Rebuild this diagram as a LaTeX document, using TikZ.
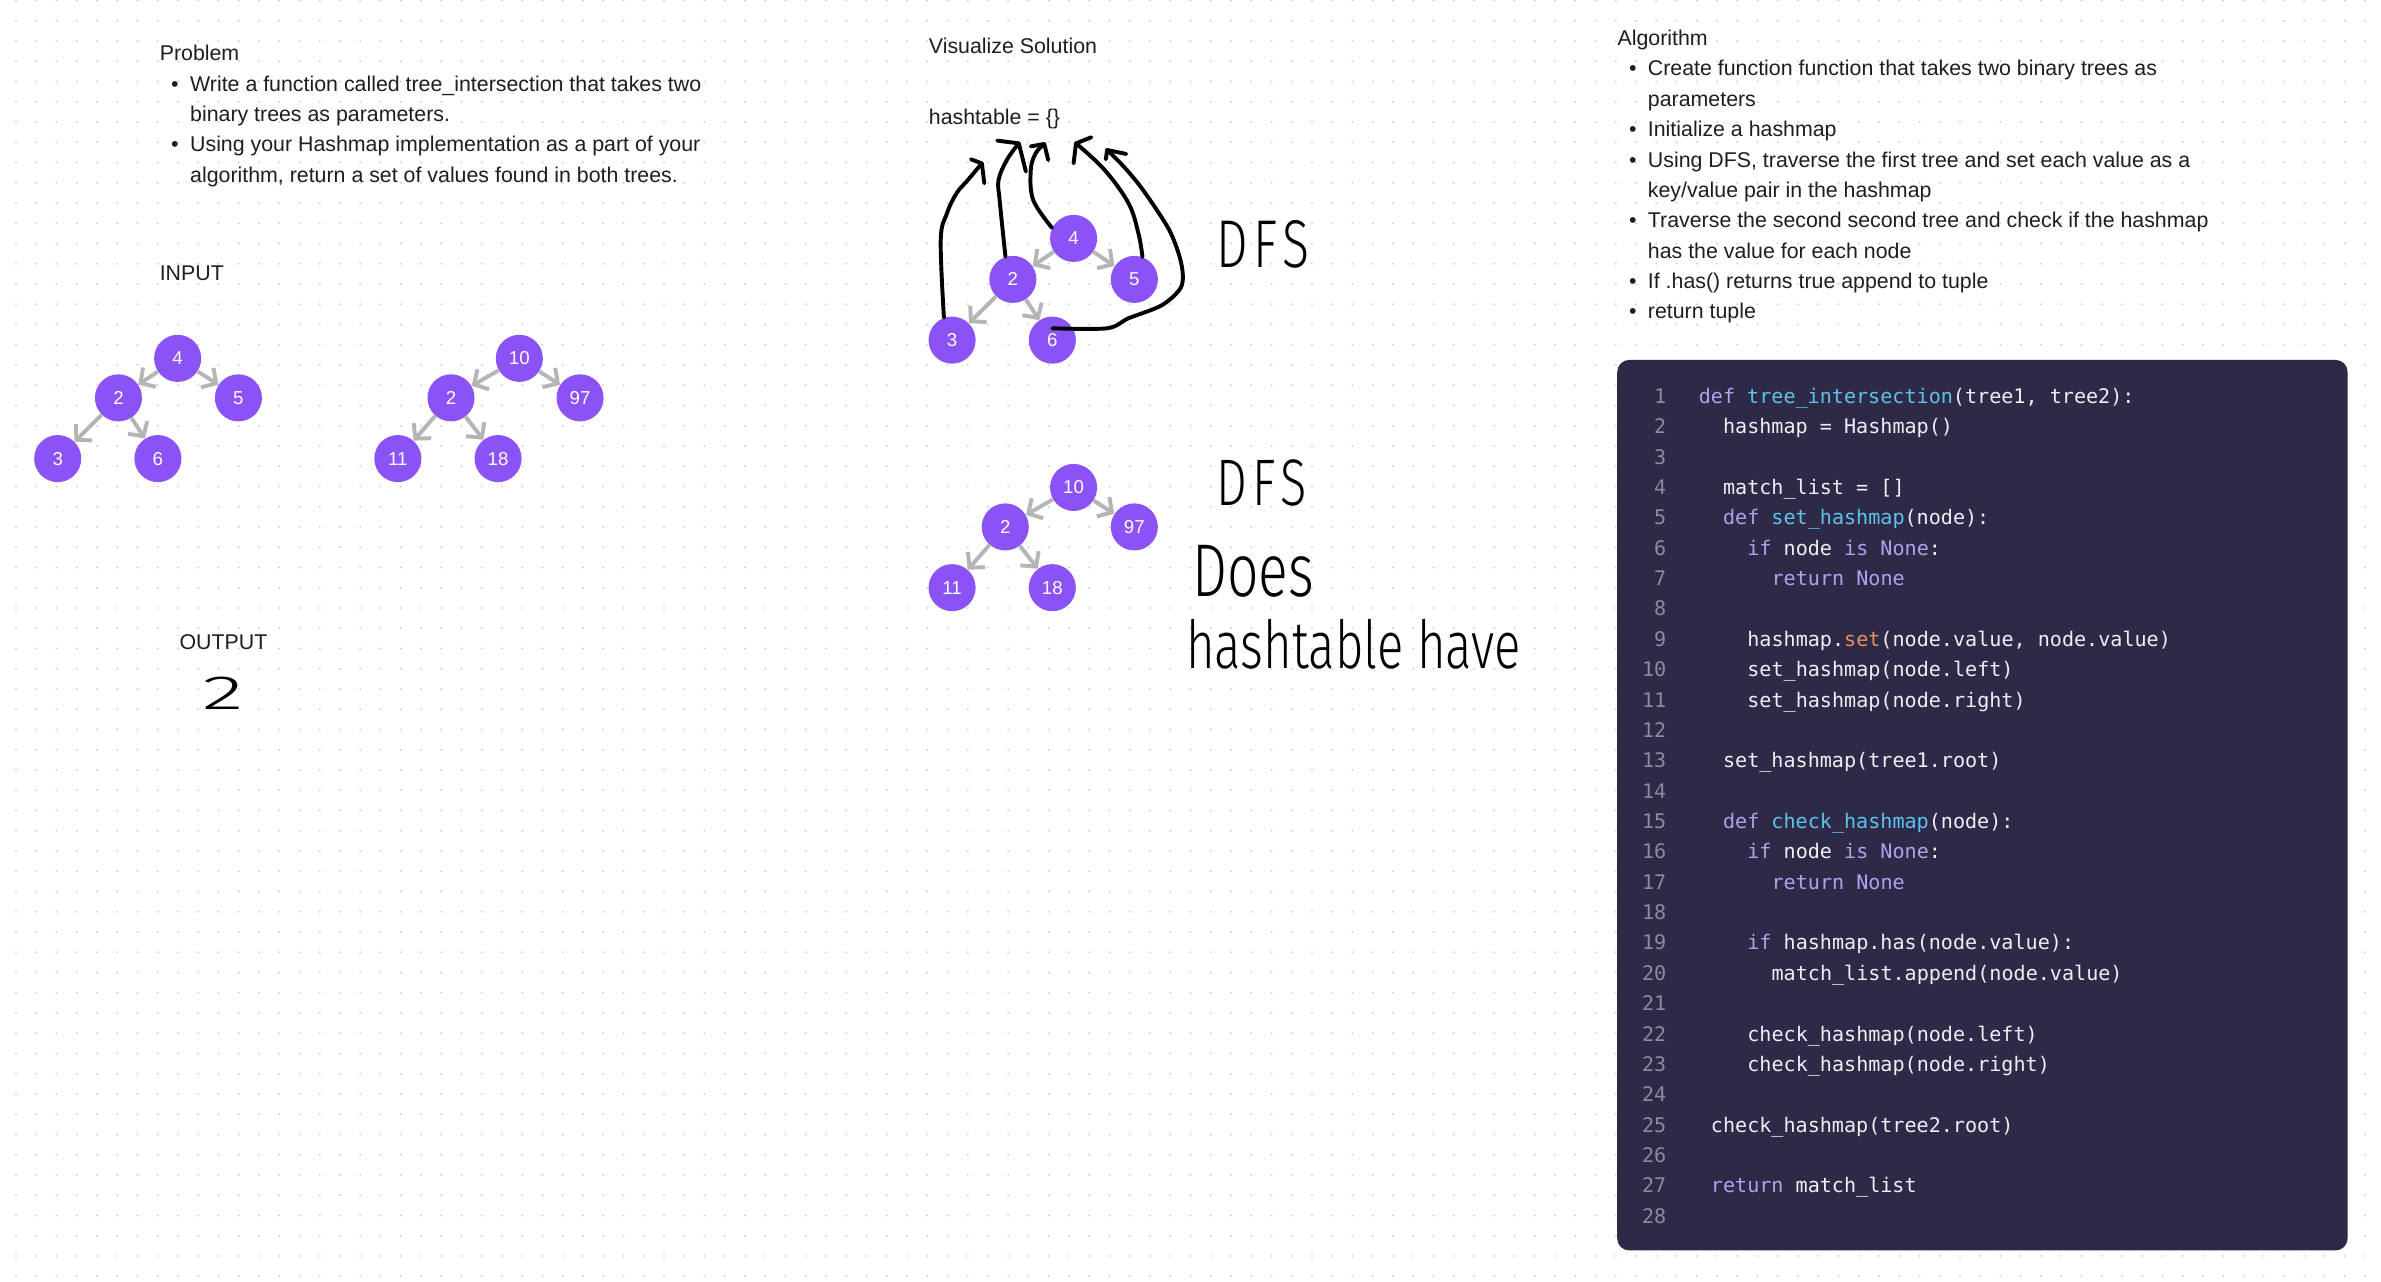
\documentclass[tikz,border=0pt]{standalone}
\usepackage{fontspec}
\setmainfont{Liberation Sans}
\newfontfamily\codefont{DejaVu Sans Mono}
\IfFontExistsTF{Fira Sans Light}{%
	\newfontfamily\handfont[FakeStretch=0.74]{Fira Sans Light}
	\newfontfamily\handwide[FakeStretch=1.8]{Fira Sans Light}
}{%
	\newfontfamily\handfont[FakeStretch=0.74]{Fira Sans}
	\newfontfamily\handwide[FakeStretch=1.8]{Fira Sans}
}
\usepackage{xcolor}
\usepackage{tikz}
\usetikzlibrary{arrows.meta}
\definecolor{dotgray}{HTML}{D2D2D2}
\definecolor{nodepurple}{HTML}{8B52F5}
\definecolor{edgegray}{HTML}{B5B5B5}
\definecolor{inktext}{HTML}{1E1E1E}
\definecolor{codebg}{HTML}{2E2946}
\definecolor{codetext}{HTML}{EEEEF4}
\definecolor{codekw}{HTML}{B3A0EC}
\definecolor{codefn}{HTML}{5CC3EC}
\definecolor{codemt}{HTML}{EC8E5C}
\definecolor{codenum}{HTML}{8C8A9E}
\def\kw#1{\textcolor{codekw}{#1}}
\def\fn#1{\textcolor{codefn}{#1}}
\def\mt#1{\textcolor{codemt}{#1}}
\tikzset{
	treenode/.style={circle,fill=nodepurple,text=white,minimum size=0.93cm,inner sep=0pt,font=\fontsize{10.5}{12}\selectfont},
	treeedge/.style={draw=edgegray,line width=2.2pt,-{Straight Barb[length=6pt,width=13pt]}},
	bodytext/.style={anchor=base west,inner sep=0pt,text=inktext,font=\fontsize{12}{14}\selectfont},
	codeline/.style={anchor=base west,inner sep=0pt,text=codetext,font=\codefont\fontsize{11.3}{13}\selectfont},
	lineno/.style={anchor=base east,inner sep=0pt,text=codenum,font=\codefont\fontsize{11.3}{13}\selectfont},
	handline/.style={line width=2.2pt,line cap=round,line join=round,draw=black},
	handtext/.style={anchor=base west,inner sep=0pt,text=black}
}
\begin{document}
\begin{tikzpicture}[x=0.03cm,y=-0.03cm]
	\useasboundingbox (0,0) rectangle (1568,844);
	\fill[white] (0,0) rectangle (1568,844);
	\foreach \j in {0,...,63}
		\fill[dotgray] \foreach \i in {0,...,116}{({10.5+13.336*\i},{0.33+13.336*\j}) circle (0.022cm)};

	% problem
	\node[bodytext] (problem) at (105,40) {Problem};
	\node[bodytext] (pbulA) at (112.5,60) {•};
	\node[bodytext] (pA1) at (125,60) {Write a function called tree\_intersection that takes two};
	\node[bodytext] (pA2) at (125,80) {binary trees as parameters.};
	\node[bodytext] (pbulB) at (112.5,100) {•};
	\node[bodytext] (pB1) at (125,100) {Using your Hashmap implementation as a part of your};
	\node[bodytext] (pB2) at (125,120) {algorithm, return a set of values found in both trees.};

	% input
	\node[bodytext] (input) at (105,185) {INPUT};
	\node[treenode] (a4) at (117,236) {4};
	\node[treenode] (a2) at (78,262) {2};
	\node[treenode] (a5) at (157,262) {5};
	\node[treenode] (a3) at (38,302) {3};
	\node[treenode] (a6) at (104,302) {6};
	\draw[treeedge] (a4) -- (a2);
	\draw[treeedge] (a4) -- (a5);
	\draw[treeedge] (a2) -- (a3);
	\draw[treeedge] (a2) -- (a6);

	\node[treenode] (b10) at (342,236) {10};
	\node[treenode] (b2) at (297,262) {2};
	\node[treenode] (b97) at (382,262) {97};
	\node[treenode] (b11) at (262,302) {11};
	\node[treenode] (b18) at (328,302) {18};
	\draw[treeedge] (b10) -- (b2);
	\draw[treeedge] (b10) -- (b97);
	\draw[treeedge] (b2) -- (b11);
	\draw[treeedge] (b2) -- (b18);

	% output
	\node[bodytext] (output) at (118,428) {OUTPUT};
	\node[handtext,font=\handwide\fontsize{27}{27}\selectfont] (outtwo) at (133,467) {2};

	% visualize
	\node[bodytext] (visual) at (611.5,35) {Visualize Solution};
	\node[bodytext] (hashtable) at (611.5,82) {hashtable = \{\}};
	\node[treenode] (c4) at (707,157) {4};
	\node[treenode] (c2) at (667,184) {2};
	\node[treenode] (c5) at (747,184) {5};
	\node[treenode] (c3) at (627,224) {3};
	\node[treenode] (c6) at (693,224) {6};
	\draw[treeedge] (c4) -- (c2);
	\draw[treeedge] (c4) -- (c5);
	\draw[treeedge] (c2) -- (c3);
	\draw[treeedge] (c2) -- (c6);

	\coordinate (tipA) at (646.6,107.6);
	\coordinate (tipB) at (670.9,94.4);
	\coordinate (tipC) at (687.7,94.8);
	\coordinate (tipD) at (708.6,94.4);
	\coordinate (tipE) at (729.1,98.8);
	\coordinate (sixstart) at (693,216.2);
	\draw[handline] plot[smooth,tension=0.6] coordinates {(c3.110) (619.5,158) (623.6,140.5) (629.9,127.3) (637.4,118.5) (tipA)};
	\draw[handline] (639.4,104.9) -- (tipA) -- (648.2,120.7);
	\draw[handline] plot[smooth,tension=0.6] coordinates {(c2.108) (658.3,131.7) (657.6,118.5) (663,105.4) (tipB)};
	\draw[handline] (656.7,92.6) -- (tipB) -- (675.6,113);
	\draw[handline] plot[smooth,tension=0.6] coordinates {(c4.154) (680.4,131.7) (678.8,112) (682,101) (tipC)};
	\draw[handline] (678.8,96.4) -- (tipC) -- (690.3,105.4);
	\draw[handline] plot[smooth,tension=0.6] coordinates {(c5.70) (749.7,153.7) (743.2,133.9) (727.5,112) (tipD)};
	\draw[handline] (707,107.6) -- (tipD) -- (718.7,90.4);
	\draw[handline] plot[smooth,tension=0.5] coordinates {(sixstart) (729.1,216.2) (743.2,209.6) (765.3,200.9) (777.9,188.8) (777.9,173.4) (770,151.5) (752.7,125.1) (740.1,109.8) (tipE)};
	\draw[handline] (728.2,104.9) -- (tipE) -- (741.7,101.4);
	\node[handtext,font=\handfont\addfontfeatures{LetterSpace=8}\fontsize{38}{38}\selectfont] (dfsA) at (801,176) {DFS};

	\node[treenode] (d10) at (707,321) {10};
	\node[treenode] (d2) at (662,347) {2};
	\node[treenode] (d97) at (747,347) {97};
	\node[treenode] (d11) at (627,387) {11};
	\node[treenode] (d18) at (693,387) {18};
	\draw[treeedge] (d10) -- (d2);
	\draw[treeedge] (d10) -- (d97);
	\draw[treeedge] (d2) -- (d11);
	\draw[treeedge] (d2) -- (d18);
	\node[handtext,font=\handfont\addfontfeatures{LetterSpace=8}\fontsize{37}{37}\selectfont] (dfsB) at (801,333) {DFS};
	\node[handtext,font=\handfont\fontsize{42}{42}\selectfont] (does) at (785,393) {Does};
	\node[handtext,font=\handfont\fontsize{37.3}{37.3}\selectfont] (hashhave) at (781,440) {hashtable have};

	% algorithm
	\node[bodytext] (algorithm) at (1065,30) {Algorithm};
	\node[bodytext] (abulA) at (1072.6,50) {•};
	\node[bodytext] (aA1) at (1085,50) {Create function function that takes two binary trees as};
	\node[bodytext] (aA2) at (1085,70) {parameters};
	\node[bodytext] (abulB) at (1072.6,90) {•};
	\node[bodytext] (aB1) at (1085,90) {Initialize a hashmap};
	\node[bodytext] (abulC) at (1072.6,110) {•};
	\node[bodytext] (aC1) at (1085,110) {Using DFS, traverse the first tree and set each value as a};
	\node[bodytext] (aC2) at (1085,130) {key/value pair in the hashmap};
	\node[bodytext] (abulD) at (1072.6,150) {•};
	\node[bodytext] (aD1) at (1085,150) {Traverse the second second tree and check if the hashmap};
	\node[bodytext] (aD2) at (1085,170) {has the value for each node};
	\node[bodytext] (abulE) at (1072.6,190) {•};
	\node[bodytext] (aE1) at (1085,190) {If .has() returns true append to tuple};
	\node[bodytext] (abulF) at (1072.6,210) {•};
	\node[bodytext] (aF1) at (1085,210) {return tuple};

	% code
	\fill[codebg,rounded corners=0.24cm] (1065,237) rectangle (1546,823.5);
	\foreach \n in {1,...,28}
		\node[lineno] (ln\n) at (1097.5,{265.6+20*(\n-1)}) {\n};
	\foreach \n/\ind/\txt in {
		1/0/{\kw{def} \fn{tree\_intersection}(tree1, tree2):},
		2/2/{hashmap = Hashmap()},
		4/2/{match\_list = []},
		5/2/{\kw{def} \fn{set\_hashmap}(node):},
		6/4/{\kw{if} node \kw{is} \kw{None}:},
		7/6/{\kw{return} \kw{None}},
		9/4/{hashmap.\mt{set}(node.value, node.value)},
		10/4/{set\_hashmap(node.left)},
		11/4/{set\_hashmap(node.right)},
		13/2/{set\_hashmap(tree1.root)},
		15/2/{\kw{def} \fn{check\_hashmap}(node):},
		16/4/{\kw{if} node \kw{is} \kw{None}:},
		17/6/{\kw{return} \kw{None}},
		19/4/{\kw{if} hashmap.has(node.value):},
		20/6/{match\_list.append(node.value)},
		22/4/{check\_hashmap(node.left)},
		23/4/{check\_hashmap(node.right)},
		25/1/{check\_hashmap(tree2.root)},
		27/1/{\kw{return} match\_list}}
		\node[codeline] (code\n) at ({1118.5+7.99*\ind},{265.6+20*(\n-1)}) {\txt};
\end{tikzpicture}
\end{document}
